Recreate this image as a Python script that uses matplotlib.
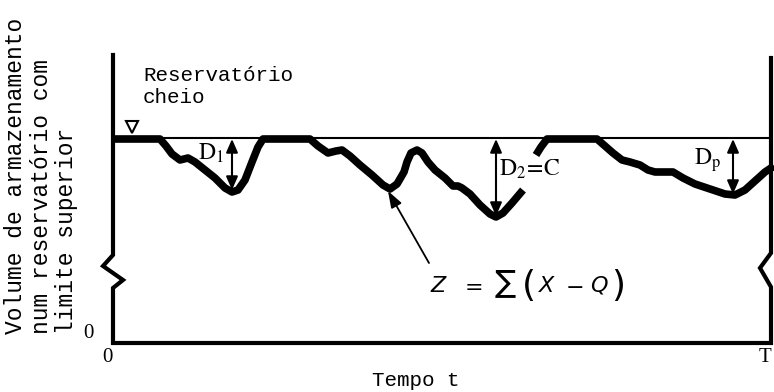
import numpy as np
import matplotlib
matplotlib.use("Agg")
import matplotlib.pyplot as plt

# storage curve Z = sum(X - Q), pixel-style coordinates (x right, y down)
curve_x = [113, 160, 166, 172, 180, 188, 195, 205, 215, 225, 232, 238, 245, 252, 258, 263,
           310, 318, 328, 336, 342, 350, 360, 372, 383, 390, 397, 404, 407, 411, 417, 422,
           428, 435, 445, 453, 458, 462, 470, 480, 490, 496, 503, 512, 523,
           np.nan,
           536, 541, 547, 597, 605, 613, 622, 630, 640, 648, 655, 665, 673, 683, 695, 710,
           725, 735, 745, 755, 765, 774]
curve_y = [139, 139, 146, 154, 160, 158, 162, 170, 178, 188, 192, 190, 180, 162, 147, 139,
           139, 146, 153, 151, 150, 156, 165, 175, 185, 189, 184, 172, 162, 153, 150, 153,
           162, 170, 178, 186, 186, 188, 194, 205, 214, 217, 213, 203, 190,
           np.nan,
           155, 147, 139, 139, 146, 153, 160, 162, 165, 170, 172, 172, 172, 178, 184, 189,
           194, 195, 190, 181, 172, 166]

full_level = 138
deficit_x = [232, 496, 733]
deficit_bottom = [190, 216, 194]
deficit_labels = [r'$\mathrm{D}_1$', r'$\mathrm{D}_2\!=\!\mathrm{C}$', r'$\mathrm{D}_\mathrm{p}$']
deficit_label_xy = [(211, 153), (530, 169), (708, 160)]

# formula pieces: symbol, x centre, baseline y, font size
formula_parts = [(r'$Z$', 439, 292, 16), (r'$=$', 471, 292, 16), (r'$\sum$', 505, 292, 16),
                 (r'$($', 528, 296, 26), (r'$X$', 547, 292, 16), (r'$-$', 574, 292, 16),
                 (r'$Q$', 599, 292, 16), (r'$)$', 617, 296, 26)]

# axes outline with break marks
left_x = [113, 113, 103, 123, 113, 113, 771, 771, 760, 771, 771]
left_y = [55, 255, 266, 280, 288, 343, 343, 287, 268, 253, 58]

fig = plt.figure(figsize=(7.74, 3.92), dpi=100)
ax = fig.add_axes([0, 0, 1, 1])
ax.set_xlim(0, 774)
ax.set_ylim(392, 0)
ax.axis('off')

mono = 'Liberation Mono'
serif = 'Liberation Serif'

ax.plot(left_x, left_y, color='black', lw=3.0, solid_joinstyle='miter')
ax.plot([113, 771], [full_level, full_level], color='black', lw=1.5)
ax.plot(curve_x, curve_y, color='black', lw=5.5, solid_capstyle='butt',
        solid_joinstyle='round')

# full reservoir marker
ax.plot([132], [127], marker='v', markersize=9, markerfacecolor='white',
        markeredgecolor='black', markeredgewidth=1.5)
ax.text(143, 75, 'Reservatório', fontsize=15, family=mono, va='center', ha='left')
ax.text(143, 97, 'cheio', fontsize=15, family=mono, va='center', ha='left')

for x, yb in zip(deficit_x, deficit_bottom):
    ax.annotate('', xy=(x, full_level + 1), xytext=(x, yb),
                arrowprops=dict(arrowstyle='<|-|>,head_length=0.8,head_width=0.35',
                                color='black', lw=1.5, shrinkA=0, shrinkB=0))
for lab, (x, y) in zip(deficit_labels, deficit_label_xy):
    ax.text(x, y, lab, fontsize=17, math_fontfamily='stix', ha='center', va='center')

ax.annotate('', xy=(388, 191), xytext=(429, 263),
            arrowprops=dict(arrowstyle='-|>,head_length=1.0,head_width=0.35',
                            color='black', lw=1.3, shrinkA=0, shrinkB=0))
for s, x, y, fs in formula_parts:
    ax.text(x, y, s, fontsize=fs, math_fontfamily='dejavusans',
            ha='center', va='baseline')

ax.text(88, 333, '0', fontsize=15, family=serif, ha='center', va='center')
ax.text(107, 358, '0', fontsize=15, family=serif, ha='center', va='center')
ax.text(765, 358, 'T', fontsize=15, family=serif, ha='center', va='center')
ax.text(416, 381, 'Tempo t', fontsize=15, family=mono, ha='center', va='center')

ax.text(41, 334, 'Volume de armazenamento\nnum reservatório com\nlimite superior',
        fontsize=16.5, family=mono, rotation=90, ha='left', va='center',
        multialignment='left', linespacing=1.15, rotation_mode='anchor')

fig.savefig('out.png', dpi=100)
